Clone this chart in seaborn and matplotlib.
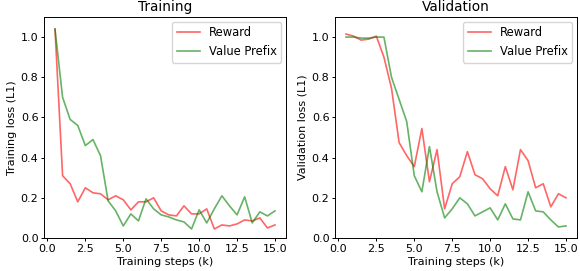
import numpy as np
import pandas as pd
import seaborn as sns
import matplotlib.pyplot as plt

steps = np.arange(1, 31) * 0.5

train_reward = [1.04, 0.31, 0.27, 0.18, 0.25, 0.225, 0.22, 0.19, 0.21, 0.19,
                0.14, 0.18, 0.18, 0.20, 0.135, 0.115, 0.11, 0.16, 0.12, 0.12,
                0.145, 0.045, 0.065, 0.06, 0.07, 0.09, 0.085, 0.10, 0.05, 0.065]
train_vp = [1.04, 0.70, 0.59, 0.56, 0.46, 0.49, 0.41, 0.185, 0.135, 0.06,
            0.12, 0.085, 0.195, 0.145, 0.115, 0.105, 0.09, 0.08, 0.045, 0.14,
            0.075, 0.145, 0.21, 0.16, 0.115, 0.205, 0.075, 0.13, 0.11, 0.135]
val_reward = [1.015, 1.005, 0.985, 0.99, 1.005, 0.90, 0.745, 0.475, 0.41, 0.355,
              0.545, 0.28, 0.44, 0.145, 0.27, 0.305, 0.43, 0.315, 0.295, 0.245,
              0.21, 0.355, 0.24, 0.44, 0.385, 0.25, 0.27, 0.155, 0.22, 0.20]
val_vp = [1.0, 1.0, 0.995, 0.995, 1.0, 1.0, 0.80, 0.69, 0.58, 0.31,
          0.23, 0.455, 0.23, 0.10, 0.145, 0.20, 0.17, 0.11, 0.13, 0.15,
          0.09, 0.17, 0.095, 0.09, 0.23, 0.135, 0.13, 0.09, 0.055, 0.06]


def to_long(reward, vp):
    return pd.DataFrame({
        'step': np.concatenate([steps, steps]),
        'loss': reward + vp,
        'model': ['Reward'] * len(steps) + ['Value Prefix'] * len(steps),
    })


plt.rcParams['font.family'] = ['DejaVu Sans']
palette = {'Reward': 'red', 'Value Prefix': 'green'}
fs = 8.0

fig, axes = plt.subplots(1, 2, figsize=(5.8, 2.71), dpi=100)

panels = [
    (axes[0], to_long(train_reward, train_vp), 'Training', 'Training loss (L1)'),
    (axes[1], to_long(val_reward, val_vp), 'Validation', 'Validation loss (L1)'),
]
for ax, df, title, ylabel in panels:
    sns.lineplot(data=df, x='step', y='loss', hue='model', palette=palette,
                 alpha=0.6, linewidth=1.2, ax=ax)
    ax.set_title(title, fontsize=9.8, pad=4)
    ax.set_xlabel('Training steps (k)', fontsize=fs, labelpad=2.5)
    ax.set_ylabel(ylabel, fontsize=fs, labelpad=3)
    ax.tick_params(labelsize=fs, length=2.5, width=0.7, pad=1.5)
    ax.set_xticks([0, 2.5, 5, 7.5, 10, 12.5, 15])
    ax.set_yticks([0, 0.2, 0.4, 0.6, 0.8, 1.0])
    ax.set_ylim(0, 1.1)
    for s in ax.spines.values():
        s.set_linewidth(0.7)
    ax.legend(title=None, loc='upper right', fontsize=8.3, borderaxespad=0.4)

axes[0].set_position([44 / 580, 33 / 271, 242 / 580, 221 / 271])
axes[1].set_position([335 / 580, 33 / 271, 242 / 580, 221 / 271])
plt.savefig('out.png', dpi=100)
